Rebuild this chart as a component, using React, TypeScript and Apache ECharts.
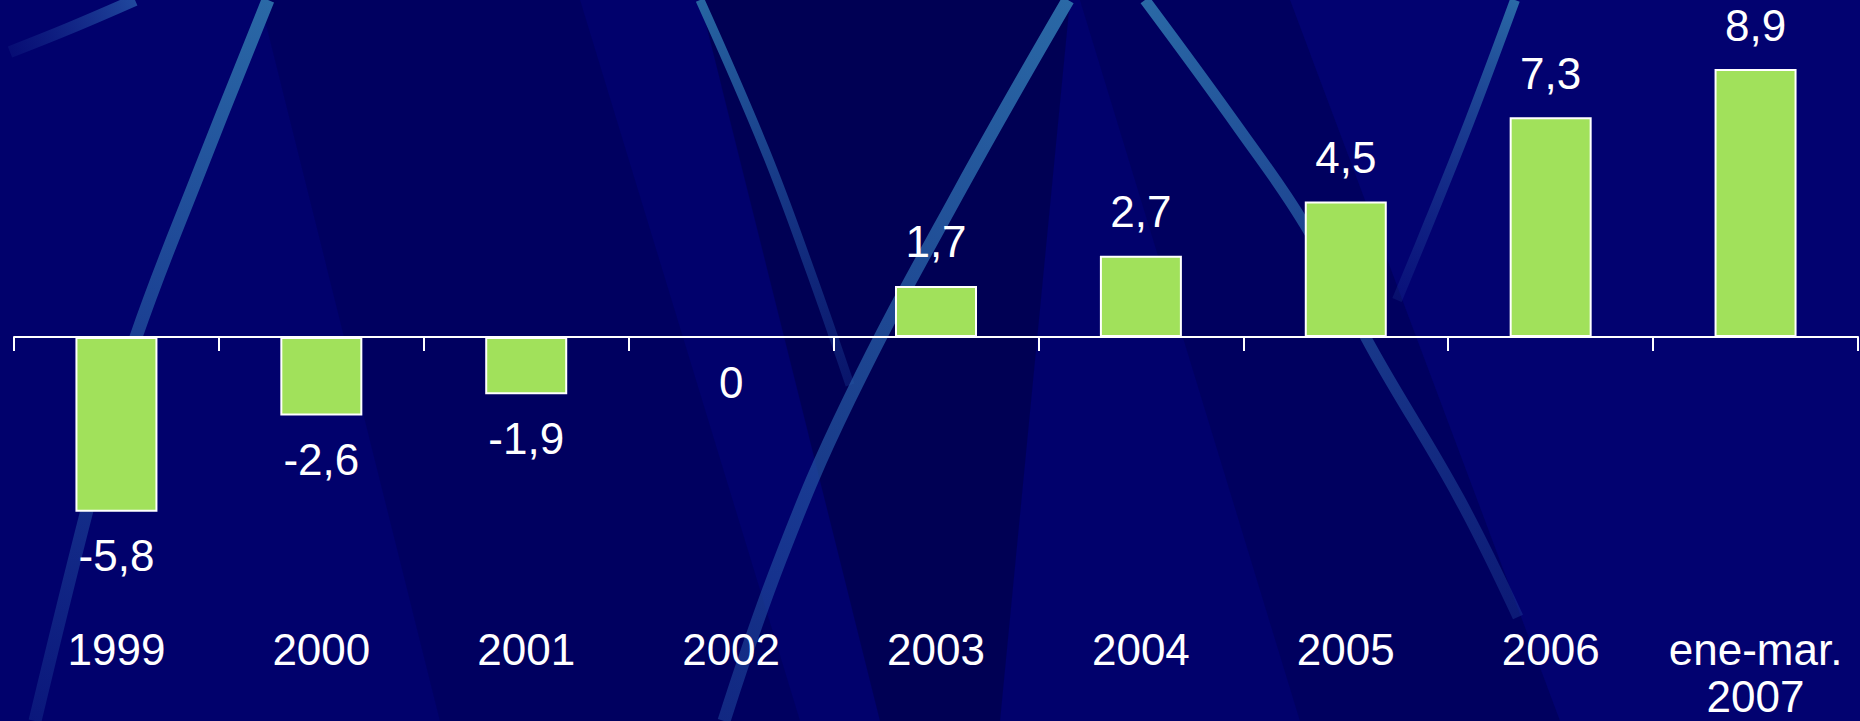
import React, { useEffect, useRef } from "react";
import * as echarts from "echarts";

const categories = ["1999", "2000", "2001", "2002", "2003", "2004", "2005", "2006", "ene-mar.\n2007"];
const values = [-5.8, -2.6, -1.9, 0, 1.7, 2.7, 4.5, 7.3, 8.9];
const yMin = -8;
const yMax = 10;

const FONT = "'Liberation Sans Narrow', 'Liberation Sans', Arial, sans-serif";

function grad(x0: number, y0: number, x1: number, y1: number, c0: string, c1: string) {
  return new echarts.graphic.LinearGradient(x0, y0, x1, y1, [
    { offset: 0, color: c0 },
    { offset: 1, color: c1 },
  ], true);
}

function streak(points: number[][], width: number, c0: string, c1: string) {
  const first = points[0];
  const last = points[points.length - 1];
  return {
    type: "polyline",
    silent: true,
    z: -5,
    shape: { points, smooth: 0.4 },
    style: {
      fill: null,
      lineWidth: width,
      stroke: grad(first[0], first[1], last[0], last[1], c0, c1),
    },
  };
}

function panel(points: number[][], color: string) {
  return {
    type: "polygon",
    silent: true,
    z: -8,
    shape: { points },
    style: { fill: color },
  };
}

export default function App() {
  const ref = useRef<HTMLDivElement>(null);
  useEffect(() => {
    if (!ref.current) return;
    const chart = echarts.init(ref.current, null, { renderer: "svg" });
    chart.setOption({
      animation: false,
      backgroundColor: "#01016c",
      graphic: [
        panel([[260, 0], [580, 0], [800, 721], [440, 721]], "rgba(0,0,60,0.25)"),
        panel([[700, 0], [1070, 0], [1000, 721], [880, 721]], "rgba(0,0,50,0.4)"),
        panel([[1080, 0], [1290, 0], [1560, 721], [1300, 721]], "rgba(0,0,55,0.25)"),
        panel([[1290, 0], [1860, 0], [1860, 721], [1560, 721]], "rgba(10,10,130,0.2)"),
        streak([[10, 52], [70, 28], [135, 0]], 12, "rgba(30,60,150,0.2)", "rgba(40,90,170,0.8)"),
        streak([[268, 0], [200, 170], [136, 337], [100, 460], [35, 721]], 13, "#2a69a6", "rgba(40,90,170,0.25)"),
        streak([[700, 0], [765, 150], [810, 270], [850, 385]], 9, "#2766a2", "rgba(30,70,160,0.3)"),
        streak([[1068, 0], [960, 190], [849, 400], [780, 560], [724, 721]], 13, "#2a69a6", "rgba(35,80,165,0.5)"),
        streak([[1145, 0], [1240, 130], [1305, 225], [1376, 356], [1459, 498], [1518, 617]], 11, "#2a69a6", "rgba(35,75,160,0.35)"),
        streak([[1515, 0], [1470, 120], [1430, 220], [1397, 300]], 10, "#2a69a6", "rgba(30,60,150,0.25)"),
      ],
      grid: {
        left: 14,
        right: 2,
        top: 36,
        bottom: 143,
        containLabel: false,
        outerBoundsMode: "none",
      },
      xAxis: {
        type: "category",
        data: categories,
        z: 5,
        axisLine: { onZero: true, lineStyle: { color: "#ffffff", width: 2 } },
        axisTick: { show: true, length: 14, lineStyle: { color: "#ffffff", width: 2 } },
        axisLabel: {
          color: "#ffffff",
          fontSize: 44,
          fontFamily: FONT,
          lineHeight: 47,
          margin: 48,
          interval: 0,
        },
      },
      yAxis: {
        type: "value",
        min: yMin,
        max: yMax,
        show: false,
        splitLine: { show: false },
      },
      series: [
        {
          type: "bar",
          data: values,
          barWidth: 82,
          z: 6,
          itemStyle: { color: "#a1e15b", borderColor: "#ffffff", borderWidth: 2 },
          label: {
            show: true,
            position: "outside",
            distance: 22,
            color: "#ffffff",
            fontSize: 44,
            fontFamily: FONT,
            formatter: (p: any) => String(p.value).replace(".", ","),
          },
        },
      ],
    });
    return () => chart.dispose();
  }, []);
  return (
    <div
      ref={ref}
      style={{ position: "fixed", left: 0, top: 0, width: 1860, height: 721 }}
    />
  );
}
